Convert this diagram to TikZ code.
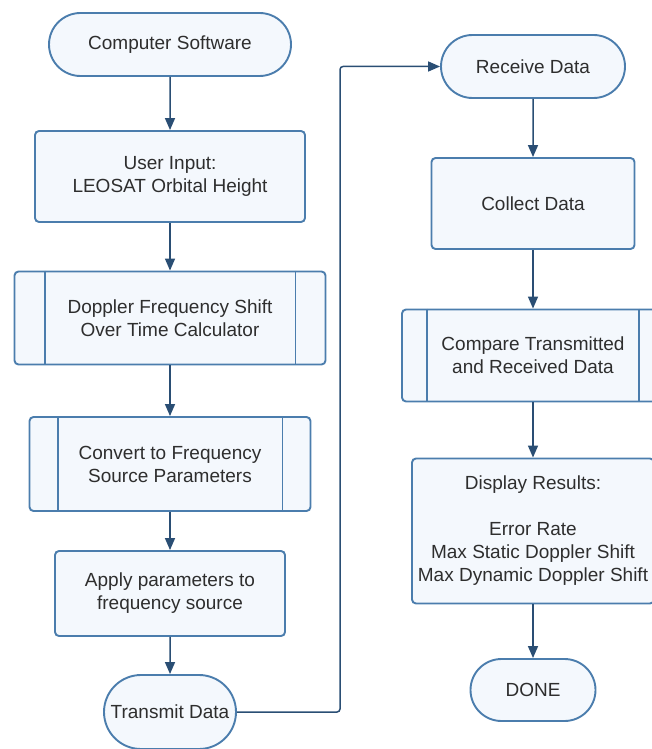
\documentclass[tikz,border=0pt]{standalone}
\usepackage{fontspec}
\setmainfont{Liberation Sans}
\usetikzlibrary{shapes.misc,arrows.meta}
\definecolor{fillc}{HTML}{F4F8FD}
\definecolor{edgec}{HTML}{4B7DAD}
\definecolor{arrc}{HTML}{2A4E74}
\definecolor{txtc}{HTML}{2E2E2E}
\tikzset{
  base/.style={draw=edgec, fill=fillc, line width=1.9pt, text=txtc, align=center,
    font=\fontsize{19}{23}\selectfont, inner sep=0pt},
  term/.style={base, rounded rectangle},
  procbox/.style={base, rectangle, rounded corners=4pt},
  arr/.style={draw=arrc, line width=1.5pt, -{Triangle[length=12pt,width=10pt]}},
}
\begin{document}
\begin{tikzpicture}[x=1pt,y=-1pt]
\useasboundingbox (0,0) rectangle (652,749);
% left column
\node[term, minimum width=242pt, minimum height=63pt] (cs) at (170,44.5) {Computer Software};
\node[procbox, minimum width=270pt, minimum height=91pt] (ui) at (170,176.5) {User Input:\\LEOSAT Orbital Height};
\node[procbox, minimum width=311pt, minimum height=93pt] (dop) at (170,318) {Doppler Frequency Shift\\Over Time Calculator};
\draw[edgec, line width=1.9pt] ([xshift=31pt]dop.north west) -- ([xshift=31pt]dop.south west);
\draw[edgec, line width=1.9pt] ([xshift=-31pt]dop.north east) -- ([xshift=-31pt]dop.south east);
\node[procbox, minimum width=281pt, minimum height=94pt] (cv) at (170,464) {Convert to Frequency\\Source Parameters};
\draw[edgec, line width=1.9pt] ([xshift=29pt]cv.north west) -- ([xshift=29pt]cv.south west);
\draw[edgec, line width=1.9pt] ([xshift=-29pt]cv.north east) -- ([xshift=-29pt]cv.south east);
\node[procbox, minimum width=230pt, minimum height=85pt] (ap) at (170,593.5) {Apply parameters to\\frequency source};
\node[term, minimum width=132pt, minimum height=74pt] (tx) at (170,712) {Transmit Data};
% right column
\node[term, minimum width=184pt, minimum height=63pt] (rd) at (533,66.5) {Receive Data};
\node[procbox, minimum width=203pt, minimum height=91pt] (cd) at (533,203.5) {Collect Data};
\node[procbox, minimum width=262pt, minimum height=92pt] (cmp) at (533,355.5) {Compare Transmitted\\and Received Data};
\draw[edgec, line width=1.9pt] ([xshift=26pt]cmp.north west) -- ([xshift=26pt]cmp.south west);
\draw[edgec, line width=1.9pt] ([xshift=-26pt]cmp.north east) -- ([xshift=-26pt]cmp.south east);
\node[procbox, minimum width=242pt, minimum height=145pt] (dr) at (533,531) {Display Results:\\\\Error Rate\\Max Static Doppler Shift\\Max Dynamic Doppler Shift};
\node[term, minimum width=125pt, minimum height=62pt] (dn) at (533,690) {DONE};
% connectors
\draw[arr] (cs) -- (ui);
\draw[arr] (ui) -- (dop);
\draw[arr] (dop) -- (cv);
\draw[arr] (cv) -- (ap);
\draw[arr] (ap) -- (tx);
\coordinate (bend) at (340,400);
\draw[arr, rounded corners=3pt] (tx.east) -- (tx.east -| bend) |- (rd.west);
\draw[arr] (rd) -- (cd);
\draw[arr] (cd) -- (cmp);
\draw[arr] (cmp) -- (dr);
\draw[arr] (dr) -- (dn);
\end{tikzpicture}
\end{document}
